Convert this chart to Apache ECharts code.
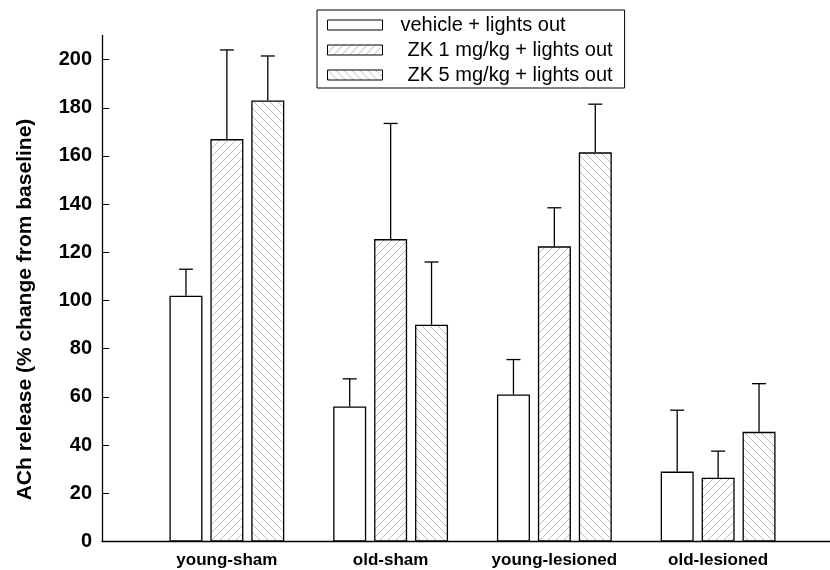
<!DOCTYPE html>
<html>
<head>
<meta charset="utf-8">
<script src="https://cdn.jsdelivr.net/npm/echarts@6/dist/echarts.min.js"></script>
<style>
html,body{margin:0;padding:0;background:#fff;}
#chart{width:830px;height:570px;}
</style>
</head>
<body>
<div id="chart"></div>
<script>
// ---- data ----
var categories = ['young-sham', 'old-sham', 'young-lesioned', 'old-lesioned'];
var seriesNames = ['vehicle + lights out', 'ZK 1 mg/kg + lights out', 'ZK 5 mg/kg + lights out'];
var vehicle = [102, 56, 61, 29];
var vehicleErrTop = [113, 67.5, 75.5, 54.5];
var zk1 = [167, 125.5, 122.5, 26.5];
var zk1ErrTop = [204, 173.5, 138.5, 37.5];
var zk5 = [183, 90, 161.5, 45.5];
var zk5ErrTop = [201.5, 116, 181.5, 65.5];
var yTicks = [0, 20, 40, 60, 80, 100, 120, 140, 160, 180, 200];
var yMax = 210;

// ---- styles ----
var FONT = '"Liberation Sans", Arial, sans-serif';
var BAR_W = 33;
var BAR_GAP = 0.24;

function hatch(dir) {
  var s = 8;
  var c = document.createElement('canvas');
  c.width = s; c.height = s;
  var ctx = c.getContext('2d');
  ctx.fillStyle = '#ffffff';
  ctx.fillRect(0, 0, s, s);
  ctx.strokeStyle = '#a8a8a8';
  ctx.lineWidth = 0.8;
  ctx.beginPath();
  if (dir === '/') {
    ctx.moveTo(-1, s + 1); ctx.lineTo(s + 1, -1);
    ctx.moveTo(-1, 1); ctx.lineTo(1, -1);
    ctx.moveTo(s - 1, s + 1); ctx.lineTo(s + 1, s - 1);
  } else {
    ctx.moveTo(-1, -1); ctx.lineTo(s + 1, s + 1);
    ctx.moveTo(s - 1, -1); ctx.lineTo(s + 1, 1);
    ctx.moveTo(-1, s - 1); ctx.lineTo(1, s + 1);
  }
  ctx.stroke();
  return c;
}

var fills = ['#ffffff', {image: hatch('/'), repeat: 'repeat'}, {image: hatch('\\'), repeat: 'repeat'}];
var values = [vehicle, zk1, zk5];
var errTops = [vehicleErrTop, zk1ErrTop, zk5ErrTop];

var chart = echarts.init(document.getElementById('chart'), null, {renderer: 'canvas'});

var series = [];
values.forEach(function (vals, s) {
  series.push({
    name: seriesNames[s],
    type: 'bar',
    xAxisIndex: 1, yAxisIndex: 1,
    barWidth: BAR_W,
    barGap: (BAR_GAP * 100) + '%',
    data: vals,
    itemStyle: {color: fills[s], borderColor: '#000', borderWidth: 1.3},
    emphasis: {disabled: true},
    z: 2
  });
});
values.forEach(function (vals, s) {
  var offset = (s - 1) * BAR_W * (1 + BAR_GAP);
  series.push({
    type: 'custom',
    xAxisIndex: 1, yAxisIndex: 1,
    data: vals.map(function (v, i) { return [i, v, errTops[s][i]]; }),
    renderItem: function (params, api) {
      var p0 = api.coord([api.value(0), api.value(1)]);
      var p1 = api.coord([api.value(0), api.value(2)]);
      var x = p0[0] + offset;
      var cap = 7;
      return {
        type: 'group',
        children: [
          {type: 'line', shape: {x1: x, y1: p0[1], x2: x, y2: p1[1]}, style: {stroke: '#000', lineWidth: 1.3}},
          {type: 'line', shape: {x1: x - cap, y1: p1[1], x2: x + cap, y2: p1[1]}, style: {stroke: '#000', lineWidth: 1.3}}
        ]
      };
    },
    silent: true,
    z: 3
  });
});

chart.setOption({
  animation: false,
  backgroundColor: '#ffffff',
  textStyle: {fontFamily: FONT},
  legend: {
    orient: 'vertical',
    left: 317, top: 10,
    padding: [5, 12, 3, 10],
    itemGap: 5,
    icon: 'rect',
    itemWidth: 55, itemHeight: 10,
    itemStyle: {borderWidth: 1, borderColor: '#000'},
    borderColor: '#000', borderWidth: 1,
    textStyle: {fontFamily: FONT, fontSize: 20, color: '#000', lineHeight: 20},
    data: [
      {name: seriesNames[0], textStyle: {padding: [0, 0, 0, 13]}},
      {name: seriesNames[1], textStyle: {padding: [0, 0, 0, 20]}},
      {name: seriesNames[2], textStyle: {padding: [0, 0, 0, 20]}}
    ]
  },
  grid: [
    {left: 102, right: 0, top: 35.5, bottom: 28.5},
    {left: 145, width: 655, top: 35.5, bottom: 28.5}
  ],
  xAxis: [
    {gridIndex: 0, type: 'value', min: 0, max: 1,
     axisLine: {show: true, onZero: false, lineStyle: {color: '#000', width: 1.3}},
     axisTick: {show: false}, axisLabel: {show: false}, splitLine: {show: false}},
    {gridIndex: 1, type: 'category', data: categories,
     axisLine: {show: false}, axisTick: {show: false},
     axisLabel: {color: '#000', fontWeight: 'bold', fontSize: 17, fontFamily: FONT, margin: 10}}
  ],
  yAxis: [
    {gridIndex: 0, type: 'value', min: 0, max: yMax, interval: 20,
     name: 'ACh release (% change from baseline)',
     nameLocation: 'middle', nameGap: 66,
     nameTextStyle: {color: '#000', fontWeight: 'bold', fontSize: 21, fontFamily: FONT, padding: [0, 42, 0, 0]},
     axisLine: {show: true, lineStyle: {color: '#000', width: 1.3}},
     axisTick: {show: true, inside: true, length: 7, customValues: yTicks, lineStyle: {color: '#000'}},
     axisLabel: {color: '#000', fontWeight: 'bold', fontSize: 20, fontFamily: FONT, margin: 10, customValues: yTicks},
     splitLine: {show: false}},
    {gridIndex: 1, type: 'value', min: 0, max: yMax, show: false, splitLine: {show: false}}
  ],
  series: series
});
</script>
</body>
</html>
